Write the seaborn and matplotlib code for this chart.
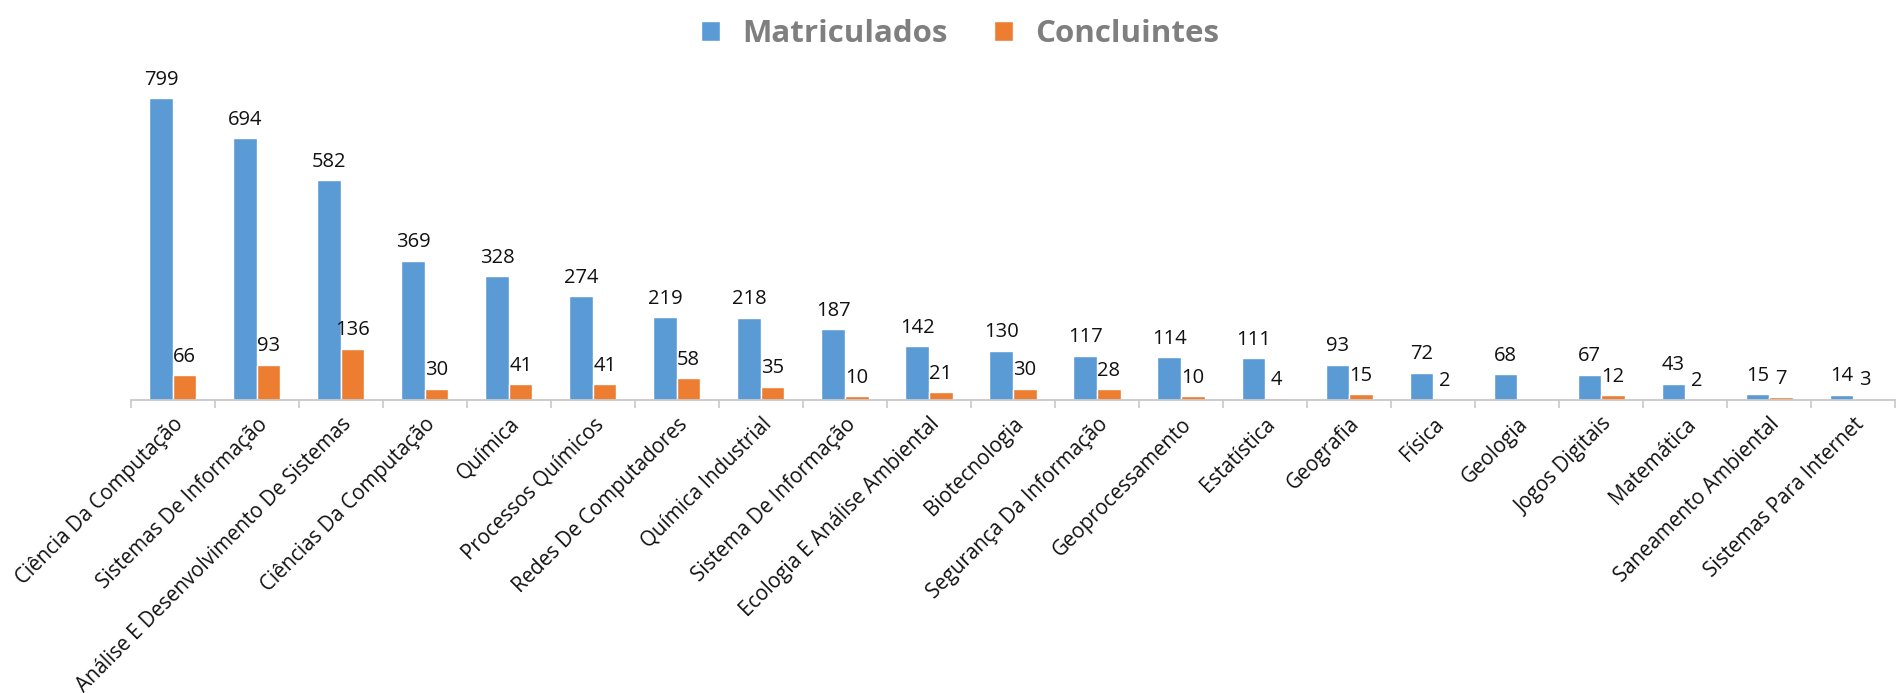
import numpy as np
import pandas as pd
import matplotlib
matplotlib.use("Agg")
import matplotlib.pyplot as plt
import seaborn as sns

cursos = [
    "Ciência Da Computação", "Sistemas De Informação",
    "Análise E Desenvolvimento De Sistemas", "Ciências Da Computação",
    "Química", "Processos Químicos", "Redes De Computadores",
    "Química Industrial", "Sistema De Informação",
    "Ecologia E Análise Ambiental", "Biotecnologia",
    "Segurança Da Informação", "Geoprocessamento", "Estatística",
    "Geografia", "Física", "Geologia", "Jogos Digitais", "Matemática",
    "Saneamento Ambiental", "Sistemas Para Internet",
]
matriculados = [799, 694, 582, 369, 328, 274, 219, 218, 187, 142, 130,
                117, 114, 111, 93, 72, 68, 67, 43, 15, 14]
concluintes = [66, 93, 136, 30, 41, 41, 58, 35, 10, 21, 30,
               28, 10, 4, 15, 2, np.nan, 12, 2, 7, 3]

cores = {"Matriculados": "#5B9BD5", "Concluintes": "#ED7D31"}

df = pd.DataFrame({"Curso": cursos, "Matriculados": matriculados,
                   "Concluintes": concluintes})
df_long = df.melt(id_vars="Curso", var_name="Grupo", value_name="Total")

sns.set_theme(style="white")
plt.rcParams["font.family"] = ["Open Sans", "DejaVu Sans"]

fig = plt.figure(figsize=(18.97, 6.93), dpi=100)
ax = fig.add_axes([0.069, 0.423, 0.93, 0.49])

sns.barplot(data=df_long, x="Curso", y="Total", hue="Grupo",
            order=cursos, hue_order=["Matriculados", "Concluintes"],
            palette=cores, width=0.56, saturation=1, ax=ax)

for c in ax.containers:
    rotulos = ["" if np.isnan(v) else f"{v:.0f}" for v in c.datavalues]
    ax.bar_label(c, labels=rotulos, padding=6, fontsize=14.5, color="#111111")

ax.set_ylim(0, 900)
ax.set_xlim(-0.5, len(cursos) - 0.5)
ax.set_xlabel("")
ax.set_ylabel("")
ax.set_yticks([])
for lado in ["top", "right", "left"]:
    ax.spines[lado].set_visible(False)
ax.spines["bottom"].set_color("#C8C8C8")
ax.spines["bottom"].set_linewidth(1.3)

ax.set_xticks(range(len(cursos)))
ax.set_xticklabels(cursos, rotation=45, ha="right", rotation_mode="anchor",
                   fontsize=14.8, color="#111111")
ax.set_xticks(np.arange(-0.5, len(cursos), 1.0), minor=True)
ax.tick_params(axis="x", which="major", length=0, pad=10)
ax.tick_params(axis="x", which="minor", length=6, color="#C8C8C8", width=1.2,
               bottom=True)

leg = ax.legend(loc="upper center", bbox_to_anchor=(0.47, 1.205), ncol=2,
                frameon=False, handlelength=0.6, handleheight=0.6,
                handletextpad=0.7, columnspacing=1.5,
                prop={"size": 22.5, "weight": "bold"})
for t in leg.get_texts():
    t.set_color("#7F7F7F")

fig.savefig("out.png", dpi=100)
